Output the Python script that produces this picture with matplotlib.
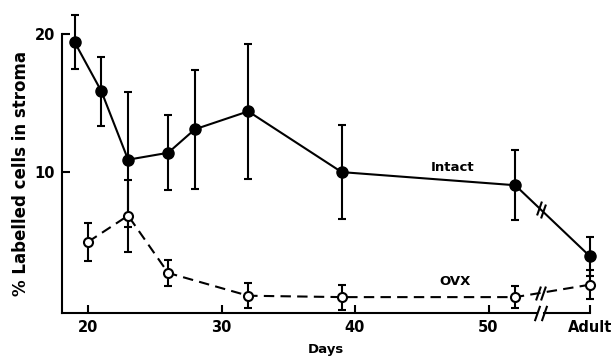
import numpy as np
import matplotlib
matplotlib.use("Agg")
import matplotlib.pyplot as plt
from matplotlib.path import Path

# position of the "Adult" group on the (broken) day axis
ADULT_X = 57.6

intact_days = [19, 21, 23, 26, 28, 32, 39, 52, ADULT_X]
intact_mean = [19.4, 15.85, 10.9, 11.4, 13.1, 14.4, 10.0, 9.05, 3.9]
intact_err = [1.95, 2.5, 4.9, 2.7, 4.3, 4.9, 3.4, 2.55, 1.4]

ovx_days = [20, 23, 26, 32, 39, 52, ADULT_X]
ovx_mean = [4.95, 6.85, 2.7, 1.05, 0.95, 0.95, 1.85]
ovx_err = [1.4, 2.6, 0.95, 0.9, 0.9, 0.8, 1.05]

x_ticks = [20, 30, 40, 50, ADULT_X]
x_tick_labels = ["20", "30", "40", "50", "Adult"]
y_ticks = [10, 20]
y_tick_labels = ["10", "20"]

BREAK_X = 53.9

plt.rcParams["font.family"] = ["DejaVu Sans"]
plt.rcParams["font.weight"] = "bold"

fig = plt.figure(figsize=(6.11, 3.56), dpi=100)
ax = fig.add_axes([0.1015, 0.1208, 0.8641, 0.7837])

ax.errorbar(intact_days, intact_mean, yerr=intact_err, fmt="-o", color="black",
            lw=1.5, elinewidth=1.5, capsize=3, capthick=1.5, ms=8,
            mfc="black", mec="black", clip_on=False, zorder=3)
ax.errorbar(ovx_days, ovx_mean, yerr=ovx_err, fmt="--o", color="black",
            lw=1.5, elinewidth=1.5, capsize=3, capthick=1.5, ms=6.5,
            mfc="white", mec="black", mew=1.5, clip_on=False, zorder=3,
            dashes=(5, 3))

ax.set_xlim(18.05, ADULT_X)
ax.set_ylim(-0.2, 20)

ax.spines["top"].set_visible(False)
ax.spines["right"].set_visible(False)
ax.spines["bottom"].set_visible(False)
ax.spines["left"].set_linewidth(1.5)
ax.spines["left"].set_bounds(-0.2, 20)

# bottom axis drawn by hand, with a gap for the break
trans = ax.get_xaxis_transform()
ax.plot([18.05, BREAK_X - 0.25], [0, 0], color="black", lw=1.5,
        transform=trans, clip_on=False)
ax.plot([BREAK_X + 0.25, ADULT_X], [0, 0], color="black", lw=1.5,
        transform=trans, clip_on=False)

slash = Path([(-0.35, -1.0), (0.35, 1.0)], [Path.MOVETO, Path.LINETO])
ax.plot([BREAK_X - 0.25, BREAK_X + 0.25], [0, 0], ls="none", marker=slash,
        ms=11, mew=1.5, color="black", transform=trans, clip_on=False)

# break marks on the two data lines
f = (BREAK_X - intact_days[-2]) / (intact_days[-1] - intact_days[-2])
y_int = intact_mean[-2] + f * (intact_mean[-1] - intact_mean[-2])
ax.plot([BREAK_X - 0.15, BREAK_X + 0.15], [y_int + 0.13, y_int - 0.13],
        ls="none", marker=slash, ms=10, mew=1.5, color="black", clip_on=False)
f = (BREAK_X - ovx_days[-2]) / (ovx_days[-1] - ovx_days[-2])
y_ovx = ovx_mean[-2] + f * (ovx_mean[-1] - ovx_mean[-2])
ax.plot([BREAK_X - 0.2, BREAK_X + 0.2], [y_ovx, y_ovx],
        ls="none", marker=slash, ms=10, mew=1.5, color="black", clip_on=False)

ax.set_xticks(x_ticks)
ax.set_xticklabels(x_tick_labels, fontsize=10.5, fontweight="bold")
ax.set_yticks(y_ticks)
ax.set_yticklabels(y_tick_labels, fontsize=10.5, fontweight="bold")
ax.tick_params(axis="both", direction="in", length=6, width=1.5, pad=5)

ax.set_xlabel("Days", fontsize=9.5, fontweight="bold", labelpad=6)
ax.set_ylabel("% Labelled cells in stroma", fontsize=12, fontweight="bold")
ax.yaxis.set_label_coords(-0.06, 0.5)

ax.text(47.3, 10.3, "Intact", fontsize=9.5, fontweight="bold",
        ha="center", va="center")
ax.text(47.5, 2.1, "OVX", fontsize=9.5, fontweight="bold",
        ha="center", va="center")

fig.savefig("out.png", dpi=100)
